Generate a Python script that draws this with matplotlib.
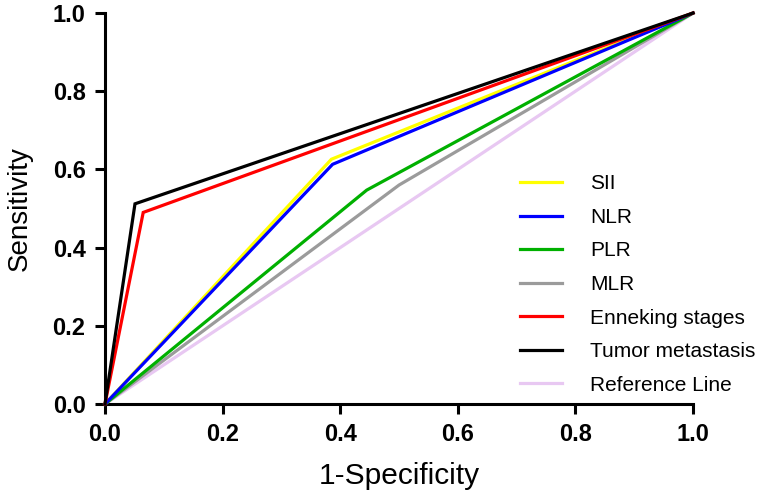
import matplotlib.pyplot as plt
import numpy as np

plt.rcParams["font.family"] = ["Liberation Sans", "DejaVu Sans"]

# ROC points (1-specificity, sensitivity)
labels = ["SII", "NLR", "PLR", "MLR", "Enneking stages", "Tumor metastasis", "Reference Line"]
fpr = [
    [0.0, 0.385, 1.0],
    [0.0, 0.387, 1.0],
    [0.0, 0.445, 1.0],
    [0.0, 0.500, 1.0],
    [0.0, 0.065, 1.0],
    [0.0, 0.051, 1.0],
    [0.0, 1.0],
]
tpr = [
    [0.0, 0.626, 1.0],
    [0.0, 0.613, 1.0],
    [0.0, 0.547, 1.0],
    [0.0, 0.560, 1.0],
    [0.0, 0.490, 1.0],
    [0.0, 0.512, 1.0],
    [0.0, 1.0],
]
colors = ["#FFFF00", "#0000FF", "#00B000", "#9B9B9B", "#FF0000", "#000000", "#E8C8F2"]
zorders = [4, 5, 4, 3, 6, 7, 2]

fig = plt.figure(figsize=(7.57, 4.95), dpi=100)
ax = fig.add_axes([0.1387, 0.1838, 0.7768, 0.7899])

handles = []
for xs, ys, c, lab, z in zip(fpr, tpr, colors, labels, zorders):
    (h,) = ax.plot(xs, ys, color=c, lw=2.3, label=lab, zorder=z, clip_on=False,
                   solid_joinstyle="miter")
    handles.append(h)

ax.set_xlim(0, 1)
ax.set_ylim(0, 1)
ticks = np.arange(0, 1.01, 0.2)
ax.set_xticks(ticks)
ax.set_yticks(ticks)
ax.set_xticklabels([f"{t:.1f}" for t in ticks], fontsize=17, fontweight="bold")
ax.set_yticklabels([f"{t:.1f}" for t in ticks], fontsize=17, fontweight="bold")
ax.tick_params(direction="out", length=7, width=2.2, pad=7)

for s in ["top", "right"]:
    ax.spines[s].set_visible(False)
for s in ["left", "bottom"]:
    ax.spines[s].set_linewidth(2.2)

ax.set_xlabel("1-Specificity", fontsize=21.5, labelpad=11)
ax.set_ylabel("Sensitivity", fontsize=20, labelpad=14)

fig.legend(handles=handles, labels=labels, loc="upper left",
           bbox_to_anchor=(0.687, 0.648), frameon=False, fontsize=15,
           handlelength=2.0, handletextpad=1.35, labelspacing=0.7,
           borderpad=0, borderaxespad=0)

fig.savefig("out.png", dpi=100)
